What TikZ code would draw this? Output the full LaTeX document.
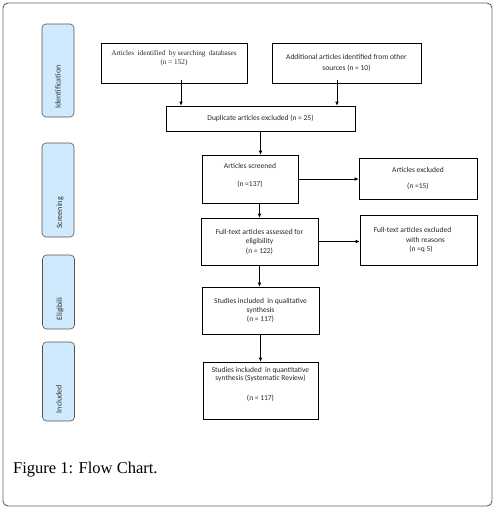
\documentclass[tikz,border=0pt]{standalone}
\usepackage{fontspec}
\setmainfont{Liberation Serif}
\newfontfamily\boxfont{Carlito}
\usetikzlibrary{arrows.meta}
\definecolor{labfill}{RGB}{206,234,252}
\definecolor{labdraw}{RGB}{85,85,85}
\definecolor{framegray}{RGB}{100,100,100}
\begin{document}
\begin{tikzpicture}[x=1pt,y=1pt,yscale=-1,
	stepbox/.style={draw=black,line width=0.6pt,inner sep=1pt,align=center,font=\boxfont\fontsize{7.5}{9.5}\selectfont,text=black!85},
	phasebox/.style={draw=labdraw,fill=labfill,rounded corners=4pt,line width=0.6pt,minimum width=32pt},
	phasetext/.style={rotate=90,font=\boxfont\fontsize{8}{9}\selectfont,text=black!80,inner sep=0pt},
	arr/.style={-{Latex[length=4pt,width=3.5pt]},line width=0.6pt}]
	%set diagram size to the page
	\useasboundingbox (0,0) rectangle (495,509);
	
	%Shape: Rounded Rect [frame]
	\draw [framegray,line width=0.9pt,rounded corners=5pt] (3,3) rectangle (492,506) ;
	
	%Shape: Rounded Rect [phases]
	\node [phasebox,minimum height=93pt] (ident) at (58,70.5) {};
	\node [phasebox,minimum height=94pt] (screen) at (58,190) {};
	\node [phasebox,minimum height=74pt] (elig) at (58.5,292) {};
	\node [phasebox,minimum height=79pt] (incl) at (58.5,381.5) {};
	% Text Node
	\node [phasetext] (identtxt) at (58,87) {Identification};
	% Text Node
	\node [phasetext] (screentxt) at (60,213) {Screening};
	% Text Node
	\node [phasetext] (eligtxt) at (60,309) {Eligibili};
	% Text Node
	\node [phasetext] (incltxt) at (59,399) {Included};
	
	%Shape: Rectangle [steps]
	\node [stepbox,minimum width=146pt,minimum height=40pt] (db) at (174,63) {{\rmfamily\fontsize{7.2}{9}\selectfont Articles\ \ identified\ \ by searching\ \ databases}\\[-1pt] {\rmfamily\fontsize{7.2}{9}\selectfont (n = 152)}\\[2pt]};
	\node [stepbox,minimum width=149pt,minimum height=40pt] (other) at (346.5,63) {Additional articles identified from other\\[1pt] sources (n = 10)};
	\node [stepbox,minimum width=189pt,minimum height=25pt] (dup) at (260.5,118.5) {Duplicate articles excluded (n = 25)};
	\node [stepbox,minimum width=96pt,minimum height=48pt] (scr) at (250,179) {Articles screened\\[8pt] (n =137)\\[-1pt]};
	\node [stepbox,minimum width=118pt,minimum height=41pt] (excl) at (418,178.5) {Articles excluded\\[7pt] (n =15)};
	\node [stepbox,minimum width=117pt,minimum height=47pt] (full) at (259.5,241.5) {Full-text articles assessed for\\ eligibility\\ (n = 122)};
	\node [stepbox,minimum width=117pt,minimum height=50pt] (fullex) at (418.5,240) {\hspace*{-12pt}Full-text articles excluded\\ \hspace*{14pt}with reasons\\ \hspace*{5pt}(n =q 5)};
	\node [stepbox,minimum width=117pt,minimum height=47pt] (qual) at (260.5,310.5) {Studies included\ \ in qualitative\\[-1pt] synthesis\\ (n = 117)};
	\node [stepbox,minimum width=115pt,minimum height=57pt] (quant) at (260.5,390.5) {Studies included\ \ in quantitative\\[-1pt] synthesis (Systematic Review)\\[10pt] (n = 117)\\[4pt]};
	
	%Straight Lines [arrows]
	\coordinate (dbx) at (181,0);
	\coordinate (otherx) at (337,0);
	\draw [arr] ([yshift=-3pt]db.south -| dbx) -- (dup.north -| dbx) ;
	\draw [arr] ([yshift=-3pt]other.south -| otherx) -- (dup.north -| otherx) ;
	\draw [arr] (dup.south) -- (dup.south |- scr.north) ;
	\draw [arr] (scr.east) -- (scr.east -| excl.west) ;
	\draw [arr] (full.north |- scr.south) -- (full.north) ;
	\draw [arr] (full.east) -- (full.east -| fullex.west) ;
	\draw [arr] (full.south) -- (full.south |- qual.north) ;
	\draw [arr] (qual.south) -- (qual.south |- quant.north) ;
	
	% Text Node
	\node [anchor=base west,inner sep=0pt,font=\fontsize{16.5}{18}\selectfont] (caption) at (13,473) {Figure 1: Flow Chart.};
	
\end{tikzpicture}
\end{document}
